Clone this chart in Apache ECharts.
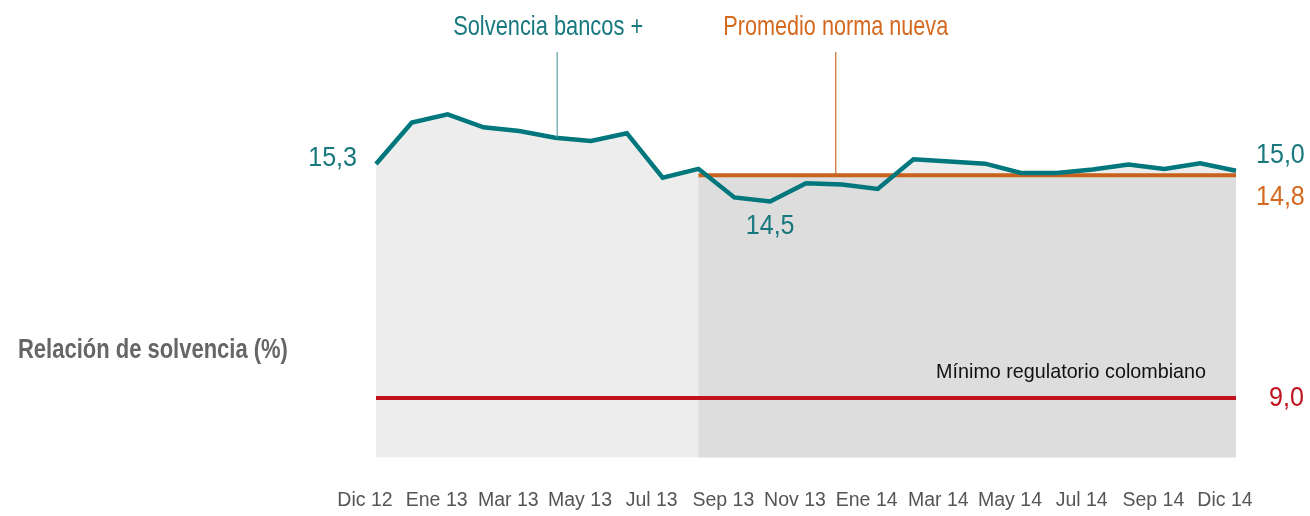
<!DOCTYPE html>
<html>
<head>
<meta charset="utf-8">
<script src="https://cdn.jsdelivr.net/npm/echarts@6/dist/echarts.min.js"></script>
<style>
html,body{margin:0;padding:0;background:#fff;}
#main{width:1310px;height:516px;}
</style>
</head>
<body>
<div id="main"></div>
<script>
// ---- Data ----
const months = ['Dic 12','Ene 13','Feb 13','Mar 13','Abr 13','May 13','Jun 13','Jul 13','Ago 13','Sep 13','Oct 13','Nov 13','Dic 13',
  'Ene 14','Feb 14','Mar 14','Abr 14','May 14','Jun 14','Jul 14','Ago 14','Sep 14','Oct 14','Nov 14','Dic 14'];
const tickLabels = ['Dic 12','Ene 13','Mar 13','May 13','Jul 13','Sep 13','Nov 13','Ene 14','Mar 14','May 14','Jul 14','Sep 14','Dic 14'];
const solvencia = [15.30,16.42,16.64,16.29,16.19,16.01,15.92,16.13,14.93,15.17,14.40,14.29,14.78,
  14.75,14.63,15.43,15.37,15.31,15.06,15.06,15.15,15.29,15.17,15.32,15.12];
const promedioNorma = [null,null,null,null,null,null,null,null,null,15.0,15.0,15.0,15.0,
  15.0,15.0,15.0,15.0,15.0,15.0,15.0,15.0,15.0,15.0,15.0,15.0];
const minimoRegulatorio = [9.0,9.0,9.0,9.0,9.0,9.0,9.0,9.0,9.0,9.0,9.0,9.0,9.0,
  9.0,9.0,9.0,9.0,9.0,9.0,9.0,9.0,9.0,9.0,9.0,9.0];
const seriesNames = ['Solvencia bancos +','Promedio norma nueva','Mínimo regulatorio colombiano'];
const axisTitle = 'Relación de solvencia (%)';
const valueLabels = {start:'15,3', end:'15,0', min:'14,5', promedio:'14,8', minimo:'9,0'};

// ---- Styles ----
const FONT = "'Liberation Sans',Arial,sans-serif";
const TEAL = '#00777c', TEAL_TXT = '#17787e', ORANGE = '#c9621c', ORANGE_TXT = '#d5691f', RED = '#c0111d';

const chart = echarts.init(document.getElementById('main'), null, {renderer:'canvas'});
const option = {
  animation:false,
  backgroundColor:'#ffffff',
  grid:{left:376,right:74,top:100.9,bottom:58.6,containLabel:false,outerBoundsMode:'none'},
  xAxis:{
    type:'category', data:months, boundaryGap:false,
    axisLine:{show:false}, axisTick:{show:false}, splitLine:{show:false},
    axisLabel:{interval:1, formatter:(v,i)=>tickLabels[i/2] || '', color:'#555', fontSize:19.5,
      fontFamily:FONT, margin:33, padding:[0,22,0,0]}
  },
  yAxis:{type:'value', min:7.4, max:17.0, show:false, splitLine:{show:false}},
  series:[
    {name:'fondo', type:'line', data:solvencia, symbol:'none', silent:true, z:1,
      lineStyle:{width:0,opacity:0}, areaStyle:{color:'#ededed',opacity:1,origin:'start'}},
    {name:seriesNames[1], type:'line', data:promedioNorma, symbol:'none', z:2,
      lineStyle:{color:ORANGE,width:4}, areaStyle:{color:'#dddddd',opacity:1,origin:'start'}},
    {name:seriesNames[2], type:'line', data:minimoRegulatorio, symbol:'none', z:3,
      lineStyle:{color:RED,width:4}},
    {name:seriesNames[0], type:'line', data:solvencia, symbol:'none', z:4,
      lineStyle:{color:TEAL,width:4.5,join:'miter'}}
  ]
};
chart.setOption(option);

const px = (i,v)=>chart.convertToPixel({gridIndex:0},[i,v]);
const last = months.length-1;
const p0 = px(0, solvencia[0]);
const pEnd = px(last, solvencia[last]);
let minIdx = 0; solvencia.forEach((v,i)=>{ if(v<solvencia[minIdx]) minIdx=i; });
const pMin = px(minIdx, solvencia[minIdx]);
const pOr = px(last, promedioNorma[last]);
const pRed = px(last, minimoRegulatorio[last]);
const pLeadT = px(5, solvencia[5]);
const a12 = px(12, promedioNorma[12]), a13 = px(13, promedioNorma[13]);
const orLeadX = a12[0] + 0.83*(a13[0]-a12[0]);
const topY = 52;

function txt(x,y,text,color,size,sx,align,vAlign,weight){
  return {type:'text', x:x, y:y, scaleX:sx, scaleY:1, z:100,
    style:{text:text, fill:color, fontSize:size, fontFamily:FONT,
    fontWeight:weight||'normal', textAlign:align, textVerticalAlign:vAlign}};
}
chart.setOption({graphic:[
  {type:'line', z:50, shape:{x1:pLeadT[0]+2,y1:topY,x2:pLeadT[0]+2,y2:pLeadT[1]}, style:{stroke:'#5f9fa3',lineWidth:1.2}},
  {type:'line', z:50, shape:{x1:orLeadX,y1:topY,x2:orLeadX,y2:pOr[1]}, style:{stroke:'#d06a2a',lineWidth:1.2}},
  txt(pLeadT[0]-7, 27, seriesNames[0], TEAL_TXT, 28, 0.78, 'center','middle'),
  txt(orLeadX, 27, seriesNames[1], ORANGE_TXT, 28, 0.773, 'center','middle'),
  txt(p0[0]-19, p0[1]-6, valueLabels.start, TEAL_TXT, 28.5, 0.88, 'right','middle'),
  txt(pEnd[0]+20, pEnd[1]-16, valueLabels.end, TEAL_TXT, 28.5, 0.88, 'left','middle'),
  txt(pMin[0], pMin[1]+25, valueLabels.min, TEAL_TXT, 28.5, 0.88, 'center','middle'),
  txt(pOr[0]+20, pOr[1]+22, valueLabels.promedio, ORANGE_TXT, 28.5, 0.88, 'left','middle'),
  txt(pRed[0]+33, pRed[1], valueLabels.minimo, RED, 28.5, 0.88, 'left','middle'),
  txt(pRed[0]-30, pRed[1]-26, seriesNames[2], '#111', 21, 0.94, 'right','middle'),
  txt(18, 351, axisTitle, '#666', 27, 0.814, 'left','middle','bold')
]});
</script>
</body>
</html>
